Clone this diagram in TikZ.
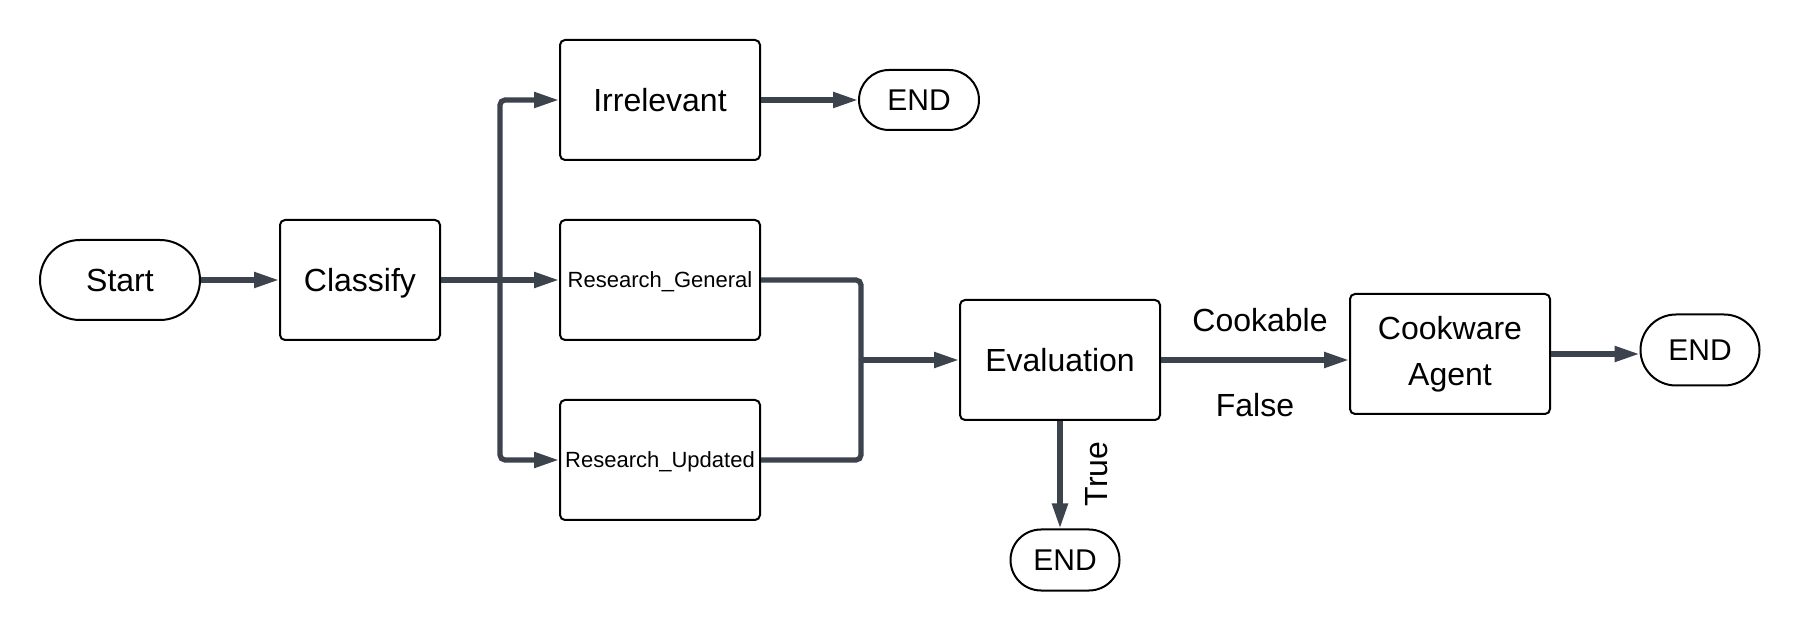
\documentclass[tikz,border=0pt]{standalone}
\usepackage{fontspec}
\setmainfont{Liberation Sans}
\usetikzlibrary{arrows.meta,calc}
\definecolor{conn}{HTML}{3D434C}
\tikzset{
  box/.style={draw=black, line width=1pt, rounded corners=2.5pt, fill=white, inner sep=0pt,
     minimum width=100pt, minimum height=60pt, font=\fontsize{16}{23}\selectfont, align=center, text depth=0pt},
  smallbox/.style={box, font=\fontsize{11}{13}\selectfont},
  term/.style={draw=black, line width=1pt, fill=white, inner sep=0pt, text depth=0pt, font=\fontsize{15}{18}\selectfont},
  connector/.style={draw=conn, line width=2.6pt, rounded corners=2.5pt,
     -{Triangle[length=12.5pt,width=7.5pt]}},
  plainline/.style={draw=conn, line width=2.6pt, rounded corners=2.5pt},
  lbl/.style={font=\fontsize{16}{20}\selectfont, inner sep=0pt}
}
\begin{document}
\begin{tikzpicture}[x=0.5pt,y=-0.5pt]
\useasboundingbox[fill=white] (0,0) rectangle (1800,630);
% nodes
\node[term, minimum width=80pt, minimum height=40pt, rounded corners=20pt, font=\fontsize{16}{18}\selectfont] (start) at (120,280) {Start};
\node[box, minimum width=80pt] (classify) at (360,280) {Classify};
\node[box] (irr) at (660,100) {Irrelevant};
\node[smallbox] (rg) at (660,280) {Research\_General};
\node[smallbox] (ru) at (660,460) {Research\_Updated};
\node[term, minimum width=60pt, minimum height=30pt, rounded corners=15pt] (end1) at (919,100) {END};
\node[box] (eval) at (1060,360) {Evaluation};
\node[box, text depth=] (cook) at (1450,354) {Cookware\\Agent};
\node[term, minimum width=59.5pt, minimum height=35.5pt, rounded corners=17.75pt] (endr) at (1700,350) {END};
\node[term, minimum width=54.5pt, minimum height=30.5pt, rounded corners=15.25pt] (endb) at (1065,560) {END};
% branch coordinates
\coordinate (br) at ($(classify.east)+(59,0)$);
\coordinate (mg) at (861,360);
% connectors
\draw[connector] (start) -- (classify);
\draw[connector] (classify.east) -- (rg.west);
\draw[connector] (br) |- (irr.west);
\draw[connector] (br) |- (ru.west);
\draw[plainline] (rg.east) -| (mg);
\draw[plainline] (ru.east) -| (mg);
\draw[connector] (mg) -- (eval.west);
\draw[connector] (irr.east) -- (end1.west);
\draw[connector] (eval.east) -- (eval.east -| cook.west);
\draw[connector] (cook.east) -- (cook.east -| endr.west);
\draw[connector] (eval.south) -- (eval.south |- endb.north);
% labels
\node[lbl] (lcook) at (1260,320) {Cookable};
\node[lbl] (lfalse) at (1255,405) {False};
\node[lbl, rotate=90] (ltrue) at (1097,474) {True};
\end{tikzpicture}
\end{document}
